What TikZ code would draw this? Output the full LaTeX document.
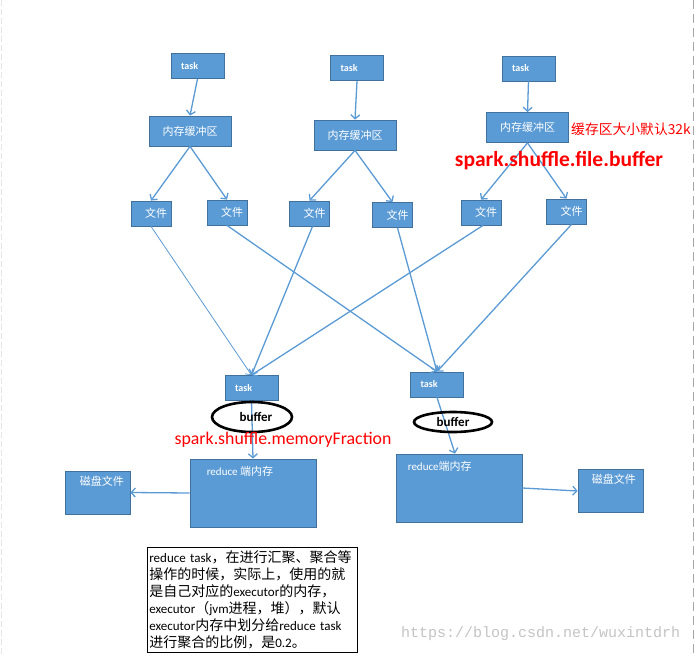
\documentclass[tikz,border=0pt]{standalone}
\usepackage{fontspec}
\setmainfont{Carlito}
\newfontfamily\cjk{Noto Sans CJK SC}
\newfontfamily\wmfont{Liberation Mono}
\usetikzlibrary{arrows.meta,shapes.geometric,calc}
\definecolor{boxfill}{HTML}{5B9BD5}
\definecolor{boxline}{HTML}{41719C}
\definecolor{wmgray}{HTML}{C4C4C4}
\newcommand\zh[1]{{\cjk\fontsize{14}{17}\selectfont #1}}
\begin{document}
\begin{tikzpicture}[x=1pt,y=-1pt,
  bx/.style={draw=boxline, fill=boxfill, line width=0.8pt, text=white, inner sep=0pt},
  taskbox/.style={bx, minimum width=53pt, minimum height=25pt, text width=33pt, align=left,
    font=\bfseries\fontsize{10}{12}\selectfont},
  bufbox/.style={bx, minimum width=82pt, minimum height=30pt, font=\cjk\fontsize{11}{13}\selectfont},
  filebox/.style={bx, minimum width=40pt, minimum height=25pt, text width=32pt, align=right,
    font=\cjk\fontsize{11}{13}\selectfont},
  redbox/.style={bx, minimum width=126pt, minimum height=68pt},
  diskbox/.style={bx, minimum width=65pt, minimum height=43pt},
  inlbl/.style={anchor=north west, text=white, inner sep=0pt},
  ell/.style={ellipse, draw=black, line width=2.6pt, inner sep=0pt, font=\bfseries\fontsize{13}{14}\selectfont},
  conn/.style={draw=boxfill, line width=1.3pt, -{Straight Barb[length=4pt,width=9pt]}},
  thinconn/.style={conn, line width=0.8pt}
]
\useasboundingbox (0,0) rectangle (695,655);
\fill[white] (0,0) rectangle (695,655);
\draw[gray!20, line width=0.6pt, dash pattern=on 6pt off 3pt] (1.5,0) -- (1.5,655);
\draw[gray!70, line width=0.8pt, dash pattern=on 9pt off 5pt] (693,0) -- (693,655);

% top tasks
\node[taskbox] (t1) at (197.5,66) {task};
\node[taskbox] (t2) at (357,68) {task};
\node[taskbox] (t3) at (528.5,68.5) {task};
% buffers
\node[bufbox] (b1) at (190,131) {内存缓冲区};
\node[bufbox] (b2) at (355,135) {内存缓冲区};
\node[bufbox] (b3) at (527.5,127.5) {内存缓冲区};
% files
\node[filebox] (f1) at (151,213.5) {文件};
\node[filebox] (f2) at (227,212.5) {文件};
\node[filebox] (f3) at (309.5,213.5) {文件};
\node[filebox] (f4) at (392.5,215) {文件};
\node[filebox] (f5) at (481,212.5) {文件};
\node[filebox] (f6) at (566.5,211.5) {文件};
% lower tasks
\node[taskbox] (t4) at (251.5,388) {task};
\node[taskbox] (t5) at (437,384.5) {task};
% reduce memory
\node[redbox, label={[inlbl, xshift=17pt, yshift=-7pt]north west:{\fontsize{11}{13}\selectfont reduce {\cjk 端内存}}}] (r1) at (253,493) {};
\node[redbox, label={[inlbl, xshift=12pt, yshift=-7pt]north west:{\fontsize{11}{13}\selectfont reduce{\cjk 端内存}}}] (r2) at (459,488) {};
% disks
\node[diskbox, label={[inlbl, xshift=15pt, yshift=-5pt]north west:{\cjk\fontsize{11}{13}\selectfont 磁盘文件}}] (d1) at (97.5,492.5) {};
\node[diskbox, label={[inlbl, xshift=14pt, yshift=-5pt]north west:{\cjk\fontsize{11}{13}\selectfont 磁盘文件}}] (d2) at (610.5,491) {};

% connectors
\draw[conn] (t1.south) -- (b1.north);
\draw[conn] (t2.south) -- (b2.north);
\draw[conn] (t3.south) -- (b3.north);
\draw[conn] (b1.south) -- (f1.north);
\draw[conn] (b1.south) -- (f2.north);
\draw[conn] (b2.south) -- (f3.north);
\draw[conn] (b2.south) -- (f4.north);
\draw[conn] (b3.south) -- (f5.north);
\draw[conn] (b3.south) -- (f6.north);
\draw[thinconn] (f1.south) -- (t4.north);
\draw[conn] (f2.south) -- (t5.north);
\draw[conn] ([xshift=3pt]f3.south) -- (t4.north);
\draw[conn] ([xshift=5pt]f4.south) -- (t5.north);
\draw[conn] ([xshift=2pt]f5.south) -- (t4.north);
\draw[conn] ([xshift=5pt]f6.south) -- (t5.north);
\draw[conn] (t4.south) -- (r1.north);
\draw[conn] (t5.south) -- ([xshift=-4pt]r2.north);
\draw[conn] (r1.west) -- (d1.east);
\draw[conn] (r2.east) -- (d2.west);

% buffers ellipses
\node[ell, minimum width=80pt, minimum height=30pt] (e1) at (252,417) {\hspace*{8pt}buffer};
\node[ell, minimum width=78pt, minimum height=20pt] (e2) at (453,422) {buffer};

% red annotations
\node[anchor=west, text=red, inner sep=0pt, font=\cjk\fontsize{13.8}{15}\selectfont] (a32k) at (571,129) {缓存区大小默认32k};
\node[text=red, inner sep=0pt, font=\bfseries\fontsize{21.5}{22}\selectfont] (afb) at (559,161) {spark.shuffle.file.buffer};
\node[text=red, inner sep=0pt, font=\fontsize{17.8}{18}\selectfont] (amf) at (283,440) {spark.shuffle.memoryFraction};

% note
\node[draw=black, line width=0.7pt, fill=white, anchor=north west, minimum width=210pt, minimum height=105pt,
  inner xsep=2pt, inner ysep=1pt, text width=206pt, align=left, font=\fontsize{13}{17}\selectfont] (note) at (147,547)
{reduce task\zh{，在进行汇聚、聚合等}\\
\zh{操作的时候，实际上，使用的就}\\
\zh{是自己对应的}executor\zh{的内存，}\\
executor\zh{（}jvm\zh{进程，堆），默认}\\
executor\zh{内存中划分给}reduce task\\
\zh{进行聚合的比例，是}0.2\zh{。}};

% watermark
\node[anchor=west, inner sep=0pt, text=wmgray, font=\wmfont\fontsize{15}{15}\selectfont] (wm) at (401,634) {https://blog.csdn.net/wuxintdrh};
\end{tikzpicture}
\end{document}
